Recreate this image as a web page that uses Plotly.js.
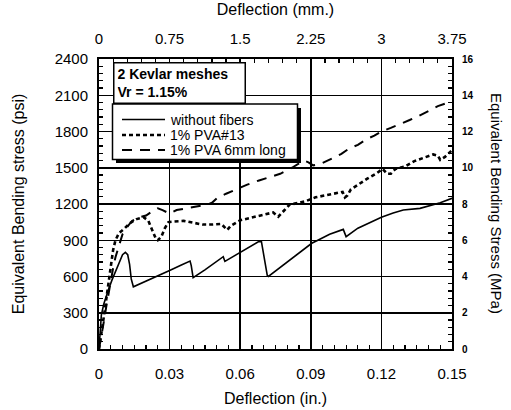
<!DOCTYPE html>
<html>
<head>
<meta charset="utf-8">
<script src="https://cdn.plot.ly/plotly-3.0.1.min.js"></script>
<style>html,body{margin:0;padding:0;background:#fff;}#chart{width:511px;height:410px;}</style>
</head>
<body>
<div id="chart"></div>
<script>
// Deflection (in.) and Equivalent Bending Stress (psi)
var plainX = [0, 0.0004, 0.001, 0.002, 0.003, 0.004, 0.0055, 0.007, 0.0085, 0.010, 0.0112, 0.0122, 0.0130, 0.0137, 0.0146,
  0.020, 0.025, 0.030, 0.035, 0.0387, 0.0392, 0.0400, 0.045, 0.050, 0.0528, 0.0535, 0.058, 0.063, 0.0677, 0.0690,
  0.0715, 0.0720, 0.078, 0.085, 0.0904, 0.0932, 0.098, 0.1038, 0.1045, 0.1050, 0.110, 0.115, 0.120, 0.125, 0.1293,
  0.1364, 0.1392, 0.145, 0.150];
var plainY = [0, 150, 280, 370, 440, 490, 570, 640, 720, 780, 800, 780, 700, 580, 515,
  560, 605, 650, 695, 728, 690, 590, 655, 722, 764, 725, 775, 830, 888, 890,
  610, 600, 690, 790, 875, 902, 950, 990, 960, 930, 1000, 1045, 1090, 1125, 1150,
  1164, 1178, 1210, 1247];

var pva13X = [0, 0.001, 0.002, 0.003, 0.004, 0.005, 0.006, 0.007, 0.0085, 0.011, 0.013, 0.016, 0.019, 0.021, 0.0225,
  0.024, 0.025, 0.0265, 0.028, 0.0295, 0.032, 0.036, 0.040, 0.044, 0.048, 0.052, 0.0545, 0.056, 0.060, 0.065,
  0.070, 0.074, 0.0762, 0.078, 0.081, 0.085, 0.088, 0.092, 0.097, 0.101, 0.1035, 0.1045, 0.1055, 0.107, 0.110,
  0.114, 0.118, 0.1205, 0.1225, 0.124, 0.126, 0.130, 0.134, 0.138, 0.142, 0.144, 0.145, 0.147, 0.149, 0.150];
var pva13Y = [0, 120, 260, 400, 530, 680, 820, 900, 960, 1000, 1040, 1075, 1090, 1060, 990,
  920, 900, 930, 1000, 1050, 1055, 1060, 1045, 1030, 1030, 1035, 985, 1020, 1065, 1090,
  1115, 1130, 1095, 1130, 1195, 1210, 1225, 1255, 1275, 1290, 1300, 1255, 1270, 1320, 1360,
  1410, 1455, 1490, 1450, 1450, 1490, 1510, 1555, 1580, 1610, 1600, 1565, 1590, 1625, 1645];

var pvaLongX = [0, 0.001, 0.002, 0.003, 0.004, 0.005, 0.006, 0.007, 0.0085, 0.010, 0.012, 0.014, 0.017, 0.020, 0.023,
  0.025, 0.027, 0.030, 0.033, 0.037, 0.041, 0.046, 0.048, 0.050, 0.054, 0.058, 0.063, 0.068, 0.073, 0.077,
  0.082, 0.087, 0.089, 0.091, 0.094, 0.097, 0.100, 0.103, 0.106, 0.110, 0.114, 0.117, 0.120, 0.124, 0.128,
  0.132, 0.136, 0.140, 0.144, 0.147, 0.150];
var pvaLongY = [0, 100, 220, 340, 460, 570, 670, 760, 860, 950, 1010, 1060, 1090, 1105, 1145,
  1165, 1150, 1120, 1150, 1165, 1180, 1195, 1210, 1245, 1285, 1320, 1360, 1395, 1425, 1450,
  1500, 1560, 1545, 1520, 1530, 1555, 1585, 1615, 1655, 1690, 1740, 1765, 1800, 1830, 1860,
  1895, 1930, 1970, 2010, 2030, 2030];

var seriesNames = ["without fibers", "1% PVA#13", "1% PVA 6mm long"];
var boxText = "<b>2 Kevlar meshes<br>Vr = 1.15%</b>";

var FONT = "Liberation Sans, Arial, Helvetica, sans-serif";
var lineStyles = [
  {color: "#000", width: 1.6},
  {color: "#000", width: 2.6, dash: "4px,3px"},
  {color: "#000", width: 2, dash: "10px,8px"}
];

var traces = [
  {x: plainX, y: plainY, name: seriesNames[0], type: "scatter", mode: "lines", line: lineStyles[0], showlegend: false},
  {x: pva13X, y: pva13Y, name: seriesNames[1], type: "scatter", mode: "lines", line: lineStyles[1], showlegend: false},
  {x: pvaLongX, y: pvaLongY, name: seriesNames[2], type: "scatter", mode: "lines", line: lineStyles[2], showlegend: false},
  {x: [], y: [], xaxis: "x2", yaxis: "y2", showlegend: false, hoverinfo: "skip", type: "scatter", mode: "lines"}
];

// pixel helpers for the in-plot legend (plot area: 99..452 x, 59..349 y)
function px(v) { return (v - 99) / 353; }
function py(v) { return (349 - v) / 290; }

var shapes = [
  {type: "rect", xref: "paper", yref: "paper", layer: "above",
   x0: px(116), x1: px(301), y0: py(163), y1: py(108), fillcolor: "#000", line: {width: 0}},
  {type: "rect", xref: "paper", yref: "paper", layer: "above",
   x0: px(112.5), x1: px(297.5), y0: py(159.5), y1: py(104), fillcolor: "#fff", line: {color: "#000", width: 1.5}}
];
var rowY = [119.5, 135, 150];
var annotations = [];
for (var i = 0; i < seriesNames.length; i++) {
  shapes.push({type: "line", xref: "paper", yref: "paper", layer: "above",
    x0: px(122), x1: px(165), y0: py(rowY[i]), y1: py(rowY[i]), line: lineStyles[i]});
  annotations.push({xref: "paper", yref: "paper", x: px(168), y: py(rowY[i]), xanchor: "left", yanchor: "middle",
    text: seriesNames[i], showarrow: false, font: {family: FONT, size: 14, color: "#000"}});
}
annotations.push(
  {xref: "paper", yref: "paper", x: px(112.5), y: py(62), xanchor: "left", yanchor: "top",
   text: boxText, showarrow: false, align: "left", width: 124, height: 33,
   bgcolor: "#fff", bordercolor: "#000", borderwidth: 1.5, borderpad: 3,
   font: {family: FONT, size: 14, color: "#000"}},
  {xref: "paper", yref: "paper", x: px(497), y: 0.5, xanchor: "center", yanchor: "middle",
   text: "Equivalent Bending Stress (MPa)", showarrow: false, textangle: 90,
   font: {family: FONT, size: 15, color: "#000"}}
);

var axisCommon = {
  showline: true, linecolor: "#000", linewidth: 2, zeroline: false,
  ticks: "inside", ticklen: 6, tickwidth: 1.5, tickcolor: "#000",
  tickfont: {family: FONT, size: 15, color: "#000"}
};

var layout = {
  width: 511, height: 410,
  margin: {l: 99, r: 59, t: 59, b: 61, pad: 0},
  paper_bgcolor: "#fff", plot_bgcolor: "#fff",
  font: {family: FONT, size: 13, color: "#000"},
  showlegend: false,
  xaxis: Object.assign({}, axisCommon, {
    range: [0, 0.15], tick0: 0, dtick: 0.03,
    showgrid: true, gridcolor: "#000", gridwidth: 1.5,
    ticklabelstandoff: 10,
    minor: {dtick: 0.005, ticks: "inside", ticklen: 4, tickcolor: "#000", tickwidth: 1.2, showgrid: false},
    title: {text: "Deflection (in.)", font: {family: FONT, size: 16, color: "#000"}, standoff: 12}
  }),
  xaxis2: Object.assign({}, axisCommon, {
    overlaying: "x", side: "top", anchor: "y",
    range: [0, 3.75], tick0: 0, dtick: 0.75, showgrid: false,
    ticklabelstandoff: 7,
    minor: {dtick: 0.15, ticks: "inside", ticklen: 4, tickcolor: "#000", tickwidth: 1.2, showgrid: false},
    title: {text: "Deflection (mm.)", font: {family: FONT, size: 16, color: "#000"}, standoff: 10}
  }),
  yaxis: Object.assign({}, axisCommon, {
    range: [0, 2400], tick0: 0, dtick: 300, tickformat: "d",
    showgrid: true, gridcolor: "#000", gridwidth: 1.5,
    ticklabelstandoff: 6,
    minor: {dtick: 60, ticks: "inside", ticklen: 4, tickcolor: "#000", tickwidth: 1.2, showgrid: false},
    title: {text: "Equivalent Bending stress (psi)", font: {family: FONT, size: 16, color: "#000"}, standoff: 26}
  }),
  yaxis2: Object.assign({}, axisCommon, {
    overlaying: "y", side: "right", anchor: "x",
    range: [0, 16], tick0: 0, dtick: 2, showgrid: false,
    ticklabelstandoff: 6,
    tickfont: {family: FONT, size: 10, color: "#000", weight: "bold"},
    minor: {dtick: 0.4, ticks: "inside", ticklen: 4, tickcolor: "#000", tickwidth: 1.2, showgrid: false}
  }),
  shapes: shapes,
  annotations: annotations
};

Plotly.newPlot("chart", traces, layout, {displayModeBar: false, staticPlot: true});
</script>
</body>
</html>
